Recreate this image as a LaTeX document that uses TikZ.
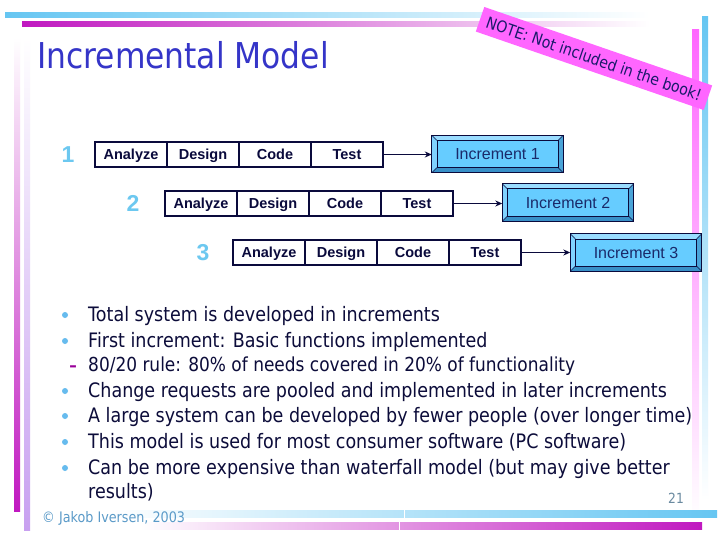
\documentclass[tikz,border=0pt]{standalone}
\usepackage{fontspec}
\setmainfont{DejaVu Sans}
\newfontfamily\tah[FakeStretch=0.88]{DejaVu Sans}
\newfontfamily\arl{Liberation Sans}
\usetikzlibrary{arrows.meta}
\definecolor{navy}{HTML}{0A0A3C}
\definecolor{txt}{HTML}{0C0C3A}
\definecolor{titleblue}{HTML}{3535C8}
\definecolor{skyb}{HTML}{66C6F2}
\definecolor{mag}{HTML}{C018C0}
\definecolor{lav}{HTML}{C8A0F0}
\definecolor{pinkb}{HTML}{FF66FF}
\definecolor{numblue}{HTML}{6CC8F0}
\definecolor{incfill}{HTML}{66CCFF}
\definecolor{bevl}{HTML}{9ADCFF}
\definecolor{bevm}{HTML}{80D2FF}
\definecolor{bevd}{HTML}{3890C8}
\definecolor{bevr}{HTML}{4AA4D8}
\definecolor{inctxt}{HTML}{1A2A6A}
\definecolor{dotc}{HTML}{66BBEE}
\definecolor{dashc}{HTML}{990099}
\definecolor{footc}{HTML}{5A9AC8}
\definecolor{pgc}{HTML}{6A8AA0}
\definecolor{notec}{HTML}{FF66FF}
\definecolor{notetxt}{HTML}{1A1A6A}
\newcommand{\incbox}[4]{%
  \node[incr] (#1) at (#2,#3) {#4};
  \fill[bevl] (#1.north west) -- (#1.north east) -- ([shift={(-5,5)}]#1.north east) -- ([shift={(5,5)}]#1.north west) -- cycle;
  \fill[bevm] (#1.north west) -- (#1.south west) -- ([shift={(5,-5)}]#1.south west) -- ([shift={(5,5)}]#1.north west) -- cycle;
  \fill[bevd] (#1.south west) -- (#1.south east) -- ([shift={(-5,-5)}]#1.south east) -- ([shift={(5,-5)}]#1.south west) -- cycle;
  \fill[bevr] (#1.north east) -- (#1.south east) -- ([shift={(-5,-5)}]#1.south east) -- ([shift={(-5,5)}]#1.north east) -- cycle;
  \draw[navy, line width=0.6] ([shift={(5,5)}]#1.north west) rectangle ([shift={(-5,-5)}]#1.south east);
  \draw[navy, line width=0.6] (#1.north west) -- ([shift={(5,5)}]#1.north west)
     (#1.north east) -- ([shift={(-5,5)}]#1.north east)
     (#1.south west) -- ([shift={(5,-5)}]#1.south west)
     (#1.south east) -- ([shift={(-5,-5)}]#1.south east);
  \draw[navy, line width=1.2] (#1.north west) rectangle (#1.south east);
}
\begin{document}
\begin{tikzpicture}[x=1pt,y=-1pt,
  cell/.style={draw=navy, line width=1.8, minimum width=72, minimum height=25, inner sep=0,
    text height=10, text depth=0,
    font=\arl\bfseries\fontsize{14.5}{15}\selectfont, text=navy},
  incr/.style={fill=incfill, minimum width=131, minimum height=37, inner sep=0,
    text height=11.5, text depth=0,
    font=\arl\fontsize{16}{18}\selectfont, text=inctxt},
  num/.style={font=\arl\bfseries\fontsize{23}{24}\selectfont, text=numblue, inner sep=0,
    text height=16, text depth=0},
  conn/.style={draw=navy, line width=1.4, -{Stealth[length=7,width=6]}},
  bul/.style={anchor=base west, inner sep=0, text=txt, font=\tah\fontsize{19.9}{22}\selectfont},
  subbul/.style={anchor=base west, inner sep=0, text=txt, font=\tah\fontsize{19.3}{20}\selectfont},
  dot/.style={circle, fill=dotc, minimum size=6, inner sep=0},
]
\useasboundingbox (0,0) rectangle (720,540);
\fill[white] (0,0) rectangle (720,540);
% decorative bars
\fill[left color=skyb, right color=white] (5,13) rectangle (650,18);
\fill[left color=mag, right color=white] (22,22) rectangle (650,27);
\fill[top color=white, bottom color=mag] (14,38) rectangle (20,511);
\fill[top color=white, bottom color=lav] (24,38) rectangle (30,530);
\shade[top color=pinkb, middle color=pinkb!75, bottom color=white] (692,30) rectangle (699,520);
\shade[top color=skyb, middle color=skyb!60, bottom color=white] (702,17) rectangle (708,500);
\fill[left color=white, right color=skyb] (110,510) rectangle (717,517);
\fill[left color=white, right color=mag] (140,522) rectangle (702,529);
\fill[white] (403.5,509) rectangle (405,518);
\fill[white] (398.5,521) rectangle (400,530);
% title
\node[anchor=base west, inner sep=0, text=titleblue, font=\tah\fontsize{35.6}{40}\selectfont] (title) at (37,69) {Incremental Model};
% note
\node[fill=notec, rotate=-19, minimum width=241, minimum height=26, inner sep=0,
  text=notetxt, font=\tah\fontsize{16}{18}\selectfont] (note) at (594,58.5) {NOTE: Not included in the book!};
% numbers
\node[num] (n1) at (68,154.5) {1};
\node[num] (n2) at (133,203.5) {2};
\node[num] (n3) at (203,252.5) {3};
% row 1
\node[cell] (a1) at (131,154.5) {Analyze};
\node[cell] (d1) at (203,154.5) {Design};
\node[cell] (c1) at (275,154.5) {Code};
\node[cell] (t1) at (347,154.5) {Test};
% row 2
\node[cell] (a2) at (201,203.5) {Analyze};
\node[cell] (d2) at (273,203.5) {Design};
\node[cell] (c2) at (345,203.5) {Code};
\node[cell] (t2) at (417,203.5) {Test};
% row 3
\node[cell] (a3) at (269,252.5) {Analyze};
\node[cell] (d3) at (341,252.5) {Design};
\node[cell] (c3) at (413,252.5) {Code};
\node[cell] (t3) at (485,252.5) {Test};
% increments
\incbox{i1}{497.5}{154}{Increment 1}
\incbox{i2}{568}{202.5}{Increment 2}
\incbox{i3}{636}{252.5}{Increment 3}
% connectors
\draw[conn] (t1.east) -- (t1.east -| i1.west);
\draw[conn] (t2.east) -- (t2.east -| i2.west);
\draw[conn] (t3.east) -- (t3.east -| i3.west);
% bullets
\node[dot] (p1) at (65,315) {};
\node[bul] (b1) at (88,321) {Total system is developed in increments};
\node[dot] (p2) at (65,341) {};
\node[bul] (b2) at (88,347) {First increment: Basic functions implemented};
\node[anchor=base, inner sep=0, text=dashc, font=\tah\bfseries\fontsize{17}{20}\selectfont] (s0) at (73,371) {–};
\node[subbul] (s1) at (88,371) {80/20 rule: 80\% of needs covered in 20\% of functionality};
\node[dot] (p3) at (65,391) {};
\node[bul] (b3) at (88,397) {Change requests are pooled and implemented in later increments};
\node[dot] (p4) at (65,416) {};
\node[bul] (b4) at (88,422) {A large system can be developed by fewer people (over longer time)};
\node[dot] (p5) at (65,442) {};
\node[bul] (b5) at (88,448) {This model is used for most consumer software (PC software)};
\node[dot] (p6) at (65,468) {};
\node[bul] (b6) at (88,474) {Can be more expensive than waterfall model (but may give better};
\node[bul] (b7) at (88,498) {results)};
% footer
\node[anchor=base west, inner sep=0, text=footc, font=\tah\fontsize{14.5}{16}\selectfont] (foot) at (42,522) {© Jakob Iversen, 2003};
\node[anchor=base west, inner sep=0, text=pgc, font=\tah\fontsize{14}{16}\selectfont] (pg) at (668,503) {21};
\end{tikzpicture}
\end{document}
